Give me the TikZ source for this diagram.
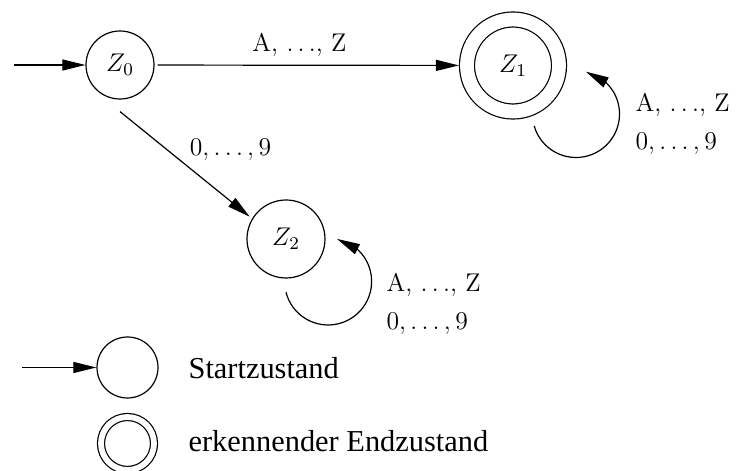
\RequirePackage{fix-cm}
\documentclass[tikz,border=0pt]{standalone}
\usepackage{fontspec}
\newfontfamily\legendfont{Liberation Serif}
\usetikzlibrary{arrows.meta}
\usetikzlibrary{bending}

\begin{document}
\begin{tikzpicture}[scale=1.000000,x=0.5pt,y=0.5pt,
  >={Triangle[length=11.5pt,width=5.5pt,flex]},
  line width=0.6pt,
  font=\fontsize{12.8}{15}\selectfont,
  state/.style={circle,draw,inner sep=0pt,minimum size=#1},
  final/.style={circle,draw,double,double distance=#1,inner sep=0pt,outer sep=0.5*#1+0.6pt},
  lab/.style={anchor=base west,inner sep=0pt},
  legend/.style={font=\legendfont\fontsize{15.2}{18}\selectfont,anchor=base west,inner sep=0pt}]
\useasboundingbox (0.000000,0.000000) rectangle (736.000000,471.000000);
% Drawing states
\node[state=34pt] (z0) at (120.000000,406.000000) {$Z_0$};
\node[final=6.9pt,minimum size=46pt] (z1) at (513.000000,405.500000) {$Z_1$};
\node[state=39pt] (z2) at (286.000000,232.000000) {$Z_2$};
% Drawing transitions
\coordinate (in0) at (14.000000,406.000000);
\draw[->] (in0) -- (z0);
\draw[->,shorten <=1.5pt] (z0) -- (z1);
\draw[->,shorten >=1.5pt] ([yshift=-6pt]z0.south) -- (z2.149);
\node[lab,anchor=base] (t01) at (299.500000,419.000000) {A, $\ldots$, Z};
\node[lab,anchor=base] (t02) at (230.500000,315.000000) {$0,\ldots,9$};
% Line 1: loop on Z1
\draw[->] ([shift={(21.2,-60.5)}]z1.center) arc[start angle=196,end angle=437,radius=21.75pt];
\node[lab] (t11a) at (635.000000,359.000000) {A, $\ldots$, Z};
\node[lab] (t11b) at (635.000000,321.000000) {$0,\ldots,9$};
% Line 2: loop on Z2
\draw[->] ([shift={(0,-53.3)}]z2.center) arc[start angle=194.4,end angle=438.3,radius=21.75pt];
\node[lab] (t22a) at (386.000000,179.000000) {A, $\ldots$, Z};
\node[lab] (t22b) at (386.000000,141.000000) {$0,\ldots,9$};
% Done with automaton
% Drawing legend
\node[state=30.5pt] (ls) at (127.500000,103.500000) {};
\coordinate (in1) at (22.000000,103.500000);
\draw[->] (in1) -- (ls);
\node[legend] (tls) at (188.000000,92.000000) {Startzustand};
\node[final=2.9pt,minimum size=26.5pt] (le) at (127.500000,27.500000) {};
\node[legend] (tle) at (188.000000,19.000000) {erkennender Endzustand};
\end{tikzpicture}
\end{document}
